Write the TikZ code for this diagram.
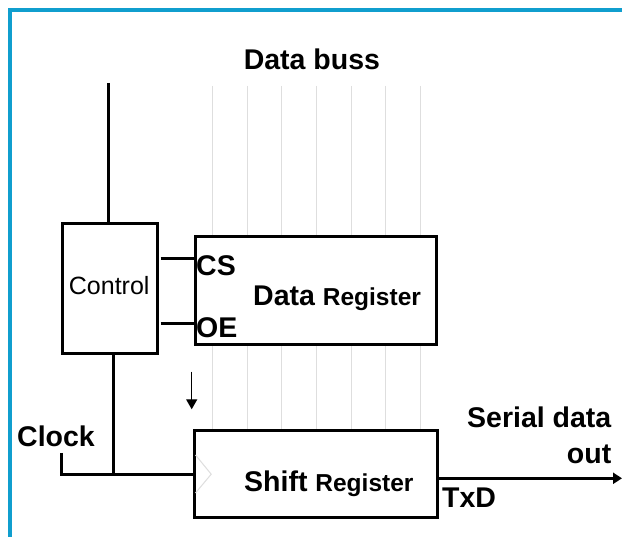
\documentclass[tikz,border=0pt]{standalone}
\usepackage{fontspec}
\setmainfont{Liberation Sans}
\usetikzlibrary{arrows.meta}
\definecolor{frameblue}{RGB}{16,158,206}
\definecolor{busgray}{RGB}{222,222,222}
\begin{document}
\begin{tikzpicture}[x=1pt,y=-1pt,
  blockbox/.style={draw=black,line width=3pt,fill=white,inner sep=0pt,rectangle},
  wire/.style={draw=black,line width=3pt},
  busline/.style={draw=busgray,line width=1pt},
  biglab/.style={font=\fontsize{28.5}{30}\selectfont\bfseries,inner sep=0pt},
  smalllab/.style={font=\fontsize{25}{27}\selectfont,inner sep=0pt}]
\useasboundingbox (0,0) rectangle (622,537);
\fill[white] (0,0) rectangle (622,537);

% page frame (top and left edges)
\draw[frameblue,line width=4pt,line join=miter] (10,537) -- (10,10) -- (622,10);

% register blocks
\node[blockbox,minimum width=243.2pt,minimum height=86.6pt] (sreg) at (315.9,474.2) {};
\node[blockbox,minimum width=94.6pt,minimum height=130pt] (ctrl) at (110,289) {};

% data bus lines, running down to the shift register
\foreach \bx [count=\bi] in {212.7,247.3,281.7,316.5,351,385.5,420.3}{
  \coordinate (bus\bi) at (\bx,86);
  \draw[busline] (bus\bi) -- (bus\bi |- sreg.north);
}
\node[blockbox,minimum width=241.7pt,minimum height=107.6pt] (dreg) at (315.85,290.5) {};

% titles and labels
\node[biglab,anchor=base] (bustitle) at (311.9,69.3) {Data buss};
\node[smalllab,anchor=base] (ctrltxt) at (109.2,295) {Control};
\node[biglab,anchor=base west] (cs) at (196,275.7) {CS};
\node[biglab,anchor=base west] (oe) at (196,337.3) {OE};
\node[biglab,anchor=base west] (drtxt) at (253,306) {Data {\fontsize{24.5}{26}\selectfont Register}};
\node[biglab,anchor=base west] (srtxt) at (244,491.7) {Shift {\fontsize{24.5}{26}\selectfont Register}};
\node[biglab,anchor=base west] (clk) at (17,446.7) {Clock};
\node[biglab,anchor=base east] (serial) at (611.5,427.7) {Serial data};
\node[biglab,anchor=base east] (serialout) at (611.5,463.3) {out};
\node[biglab,anchor=base west] (txd) at (442,508) {TxD};

% control connections
\coordinate (busin) at (108.3,83);
\draw[wire,line width=2.6pt] (busin) -- (busin |- ctrl.north);
\coordinate (csL) at (160.7,258.3);
\draw[wire] (csL) -- (csL -| dreg.west);
\coordinate (oeL) at (160.7,324);
\draw[wire] (oeL) -- (oeL -| dreg.west);

% clock path
\coordinate (clkJ) at (113.3,474.2);
\coordinate (clkIn) at (61.7,453);
\draw[wire] (clkJ |- ctrl.south) -- (clkJ);
\draw[wire,line join=miter] (clkIn) |- (sreg.west);
\draw[busgray,line width=1pt] ([xshift=2.7pt,yshift=19.2pt]sreg.west) -- ([xshift=18.4pt]sreg.west) -- ([xshift=2.7pt,yshift=-18.8pt]sreg.west);

% load arrow
\coordinate (ldA) at (191.7,371.7);
\coordinate (ldB) at (191.7,409.3);
\draw[line width=1.4pt,-{Triangle[width=11pt,length=10pt]}] (ldA) -- (ldB);

% serial output
\coordinate (txout) at (622,478.3);
\draw[wire,-{Triangle[width=11pt,length=9pt]}] (sreg.east |- txout) -- (txout);
\end{tikzpicture}
\end{document}
